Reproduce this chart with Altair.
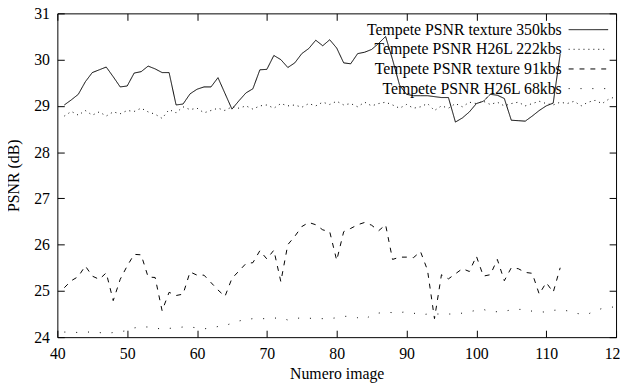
import altair as alt
import pandas as pd

# ---------------- data ----------------
names = [
    "Tempete PSNR texture 350kbs",
    "Tempete PSNR H26L 222kbs",
    "Tempete PSNR texture 91kbs",
    "Tempete PSNR H26L 68kbs",
]

frames_short = list(range(41, 113))   # texture series
frames_long = list(range(41, 121))    # H26L series

tex350 = [29.02, 29.13, 29.25, 29.52, 29.72, 29.78, 29.84, 29.63, 29.41, 29.43,
          29.71, 29.74, 29.86, 29.80, 29.72, 29.72, 29.02, 29.04, 29.26, 29.36,
          29.41, 29.41, 29.61, 29.27, 28.93, 29.11, 29.28, 29.37, 29.78, 29.79,
          30.09, 30.00, 29.83, 29.93, 30.13, 30.24, 30.42, 30.30, 30.43, 30.25,
          29.93, 29.91, 30.13, 30.16, 30.22, 30.35, 30.50, 30.00, 29.45, 29.25,
          29.22, 29.22, 29.22, 29.20, 29.18, 29.18, 28.65, 28.74, 28.87, 29.05,
          29.10, 29.25, 29.23, 29.16, 28.69, 28.68, 28.67, 28.78, 28.90, 29.00,
          29.06, 30.12]

h26l222 = [28.78, 28.88, 28.80, 28.90, 28.80, 28.87, 28.78, 28.87, 28.83, 28.90,
           28.88, 28.95, 28.87, 28.82, 28.73, 28.92, 28.85, 28.98, 28.92, 28.95,
           28.85, 28.90, 28.95, 28.90, 28.98, 28.95, 29.00, 28.93, 29.00, 29.02,
           28.95, 29.05, 29.00, 29.02, 28.97, 29.05, 29.00, 29.08, 29.03, 29.10,
           29.02, 29.05, 28.98, 29.08, 29.00, 29.05, 29.08, 29.02, 28.95, 29.03,
           28.95, 28.98, 29.05, 28.90, 29.00, 28.95, 29.05, 28.98, 29.08, 29.05,
           29.10, 29.03, 29.08, 29.00, 29.05, 29.08, 29.00, 29.05, 29.10, 29.05,
           29.02, 29.08, 29.05, 29.10, 29.00, 29.08, 29.12, 29.05, 29.15, 29.20]

tex91 = [25.07, 25.22, 25.31, 25.54, 25.32, 25.25, 25.39, 24.79, 25.25, 25.54,
         25.79, 25.78, 25.30, 25.29, 24.57, 24.97, 24.90, 24.93, 25.41, 25.34,
         25.34, 25.18, 25.02, 24.88, 25.27, 25.43, 25.59, 25.61, 25.87, 25.69,
         25.88, 25.20, 26.00, 26.18, 26.39, 26.48, 26.43, 26.32, 26.28, 25.66,
         26.28, 26.35, 26.43, 26.48, 26.42, 26.30, 26.43, 25.68, 25.73, 25.73,
         25.72, 25.85, 25.45, 24.40, 25.35, 25.26, 25.37, 25.48, 25.42, 25.75,
         25.32, 25.35, 25.68, 25.22, 25.50, 25.48, 25.40, 25.38, 24.93, 25.18,
         24.97, 25.50]

h26l68 = [24.11, 24.11, 24.10, 24.11, 24.11, 24.10, 24.08, 24.10, 24.12, 24.14,
          24.20, 24.22, 24.22, 24.20, 24.17, 24.19, 24.20, 24.22, 24.22, 24.20,
          24.18, 24.20, 24.23, 24.25, 24.30, 24.35, 24.38, 24.40, 24.40, 24.40,
          24.41, 24.42, 24.37, 24.40, 24.42, 24.41, 24.40, 24.40, 24.40, 24.42,
          24.45, 24.45, 24.42, 24.38, 24.48, 24.52, 24.54, 24.53, 24.53, 24.55,
          24.52, 24.48, 24.50, 24.50, 24.50, 24.50, 24.50, 24.52, 24.55, 24.58,
          24.60, 24.55, 24.55, 24.56, 24.59, 24.60, 24.60, 24.56, 24.55, 24.54,
          24.58, 24.59, 24.57, 24.52, 24.50, 24.50, 24.57, 24.62, 24.64, 24.66]

x_ticks = list(range(40, 121, 10))
y_ticks = list(range(24, 32))
dashes = [[1, 0], [1, 4], [5, 6], [1, 11]]

rows = []
for name, xs_, vals in [(names[0], frames_short, tex350),
                        (names[1], frames_long, h26l222),
                        (names[2], frames_short, tex91),
                        (names[3], frames_long, h26l68)]:
    for x, v in zip(xs_, vals):
        rows.append({"image": x, "psnr": v, "series": name})
df = pd.DataFrame(rows)

# ---------------- chart ----------------
W, H = 566, 328
TICK = 7  # inward tick length (px): grid lines dashed so only both ends show
FONT = "Liberation Serif"

legend = alt.Legend(
    title=None, orient="none", legendX=530, legendY=8.5, direction="vertical",
    symbolType="M-4,0H4", symbolSize=100, symbolStrokeWidth=1,
    symbolStrokeColor="black", symbolFillColor="transparent",
    labelAlign="right", labelOffset=alt.ExprRef("-35"),
    labelFont=FONT, labelFontSize=16, labelColor="black", labelLimit=400,
    rowPadding=alt.ExprRef("3.9"), padding=0,
)

chart = alt.Chart(df).mark_line(color="black", strokeWidth=1).encode(
    x=alt.X("image:Q", scale=alt.Scale(domain=[40, 120], nice=False, zero=False),
            axis=alt.Axis(
                orient="bottom", values=x_ticks, title="Numero image", ticks=False,
                domain=False, grid=True, gridColor="black", gridOpacity=1,
                gridWidth=1, gridDash=[TICK, H - 2 * TICK, TICK, 2000],
                labelFontSize=16, labelPadding=9,
                titleFontSize=16, titleFontWeight="normal", titlePadding=4,
                labelFlush=False, labelOverlap=False, format="d")),
    y=alt.Y("psnr:Q", scale=alt.Scale(domain=[24, 31], nice=False, zero=False),
            axis=alt.Axis(
                orient="left", values=y_ticks, title="PSNR (dB)", ticks=False,
                domain=False, grid=True, gridColor="black", gridOpacity=1,
                gridWidth=1, gridDash=[TICK, W - 2 * TICK, TICK, 2000],
                labelFontSize=16, labelPadding=8,
                titleFontSize=16, titleFontWeight="normal", titlePadding=12,
                labelFlush=False, labelOverlap=False, format="d")),
    strokeDash=alt.StrokeDash("series:N", scale=alt.Scale(domain=names, range=dashes),
                              legend=legend),
).properties(
    width=W, height=H,
    padding={"left": 50, "top": 3, "right": 4, "bottom": 44},
    autosize=alt.AutoSizeParams(type="none"),
).configure_view(
    stroke="black", strokeWidth=1
).configure_axis(
    labelFont=FONT, titleFont=FONT, labelColor="black", titleColor="black"
)

chart.save("out.html", embed_options={"renderer": "svg", "actions": False})
